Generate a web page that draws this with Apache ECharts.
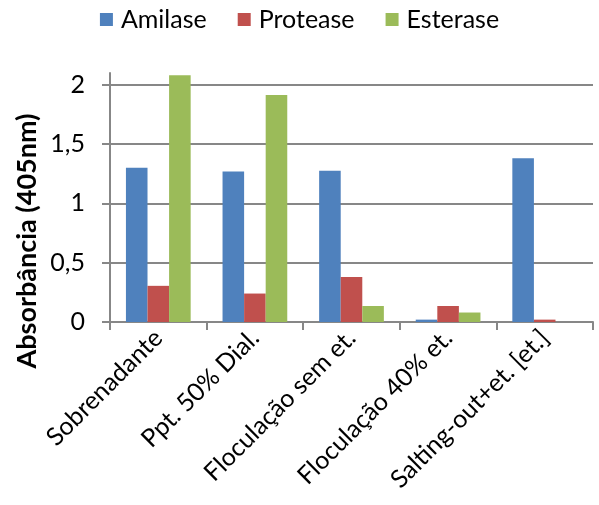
<!DOCTYPE html>
<html>
<head>
<meta charset="utf-8">
<script src="https://cdn.jsdelivr.net/npm/echarts@6/dist/echarts.min.js"></script>
<style>
  html, body { margin: 0; padding: 0; background: #fff; }
  #mainChart { width: 599px; height: 505px; }
</style>
</head>
<body>
<div id="mainChart"></div>
<script>
  var categories = ['Sobrenadante', 'Ppt. 50% Dial.', 'Floculação sem et.', 'Floculação 40% et.', 'Salting-out+et. [et.]'];
  var amilase = [1.30, 1.27, 1.275, 0.02, 1.38];
  var protease = [0.305, 0.24, 0.38, 0.135, 0.02];
  var esterase = [2.08, 1.915, 0.135, 0.08, 0];
  var yTicks = [0, 0.5, 1, 1.5, 2];

  var font = 'Lato, "Liberation Sans", sans-serif';
  var gridGrey = '#878787';

  var myChart = echarts.init(document.getElementById('mainChart'));
  myChart.setOption({
    animation: false,
    textStyle: { fontFamily: font },
    legend: {
      top: 2,
      left: 'center',
      itemWidth: 13,
      itemHeight: 13,
      itemGap: 31,
      icon: 'rect',
      textStyle: { fontSize: 25, color: '#000', fontFamily: font, padding: [0, 0, 0, 3] },
      data: ['Amilase', 'Protease', 'Esterase']
    },
    grid: {
      left: 110,
      right: 6,
      top: 73,
      bottom: 183
    },
    xAxis: {
      type: 'category',
      data: categories,
      axisLine: { lineStyle: { color: gridGrey, width: 2 } },
      axisTick: { show: true, length: 8, lineStyle: { color: gridGrey, width: 2 } },
      axisLabel: {
        rotate: 45,
        interval: 0,
        margin: 12,
        fontSize: 25,
        color: '#000',
        fontFamily: font
      }
    },
    yAxis: {
      type: 'value',
      min: 0,
      max: 2.1,
      interval: 0.5,
      axisLine: { show: true, lineStyle: { color: gridGrey, width: 2 } },
      axisTick: { show: true, length: 8, customValues: yTicks, lineStyle: { color: gridGrey, width: 2 } },
      splitLine: { show: true, lineStyle: { color: gridGrey, width: 2 } },
      axisLabel: {
        customValues: yTicks,
        margin: 25,
        fontSize: 25,
        color: '#000',
        fontFamily: font,
        formatter: function (v) { return String(v).replace('.', ','); }
      }
    },
    graphic: [{
      type: 'text',
      x: 27,
      y: 241,
      rotation: Math.PI / 2,
      style: {
        text: 'Absorbância (405nm)',
        fontSize: 27,
        fontWeight: 'bold',
        fontFamily: font,
        fill: '#000',
        align: 'center',
        verticalAlign: 'middle'
      }
    }],
    series: [
      { name: 'Amilase', type: 'bar', data: amilase, barGap: '0%', barCategoryGap: '33%', itemStyle: { color: '#4F81BD' } },
      { name: 'Protease', type: 'bar', data: protease, itemStyle: { color: '#C0504D' } },
      { name: 'Esterase', type: 'bar', data: esterase, itemStyle: { color: '#9BBB59' } }
    ]
  });
</script>
</body>
</html>
